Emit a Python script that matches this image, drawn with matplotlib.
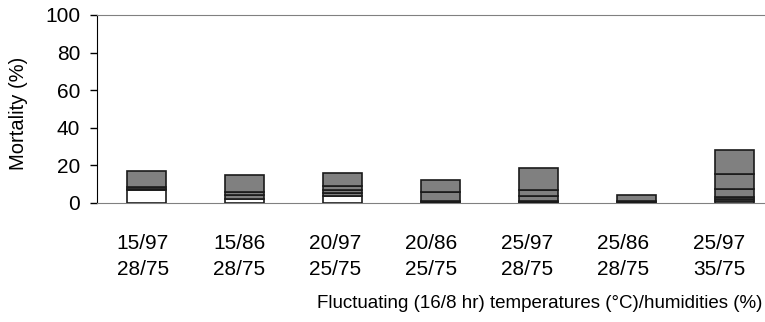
import numpy as np
import matplotlib
matplotlib.use("Agg")
import matplotlib.pyplot as plt

plt.rcParams['font.family'] = ['Liberation Sans', 'DejaVu Sans']

categories = ["15/97\n28/75", "15/86\n28/75", "20/97\n25/75", "20/86\n25/75",
              "25/97\n28/75", "25/86\n28/75", "25/97\n35/75"]

# stacked mortality components (%), bottom to top
layer1 = [6.7, 2.0, 3.8, 0.5, 0.5, 0.5, 1.0]
layer2 = [1.0, 2.0, 1.5, 0.5, 0.5, 0.5, 1.1]
layer3 = [1.0, 2.0, 1.7, 5.0, 2.7, 3.3, 1.3]
layer4 = [8.3, 8.8, 1.8, 6.0, 3.3, 0.0, 4.1]
layer5 = [0.0, 0.0, 7.2, 0.0, 11.5, 0.0, 7.8]
layer6 = [0.0, 0.0, 0.0, 0.0, 0.0, 0.0, 12.7]

layers = [layer1, layer2, layer3, layer4, layer5, layer6]
colors = ['white', '#808080', '#808080', '#808080', '#808080', '#808080']

fig = plt.figure(figsize=(7.65, 3.22), dpi=100)
ax = fig.add_axes([97 / 765, 119 / 322, 668 / 765, 188 / 322])

x = np.arange(len(categories))
bottom = np.zeros(len(categories))
for vals, c in zip(layers, colors):
    vals = np.array(vals)
    mask = vals > 0
    ax.bar(x[mask], vals[mask], width=0.4, bottom=bottom[mask], color=c,
           edgecolor='#1a1a1a', linewidth=1.2, zorder=3)
    bottom += vals

ax.set_xlim(-0.505, 6.31)
ax.set_ylim(0, 100)
ax.set_yticks(range(0, 101, 20))
ax.tick_params(axis='y', labelsize=15, length=5, width=1, direction='out', pad=7)

# category labels sit slightly left of the bars in the original
label_pos = (143 + 96 * x - 146.5) / 98
ax.set_xticks(label_pos)
ax.set_xticklabels(categories, fontsize=15, linespacing=1.5)
ax.tick_params(axis='x', length=0, pad=22)

ax.spines['right'].set_visible(False)
ax.spines['top'].set_color('#808080')
ax.spines['bottom'].set_color('#808080')
ax.spines['left'].set_color('black')

ax.set_ylabel("Mortality (%)", fontsize=14.5)
ax.yaxis.set_label_coords(-0.103, 0.475)
fig.text(540 / 765, 1 - 304 / 322,
         "Fluctuating (16/8 hr) temperatures (\u00b0C)/humidities (%)",
         fontsize=13.5, ha='center', va='center')

plt.savefig("out.png", dpi=100)
